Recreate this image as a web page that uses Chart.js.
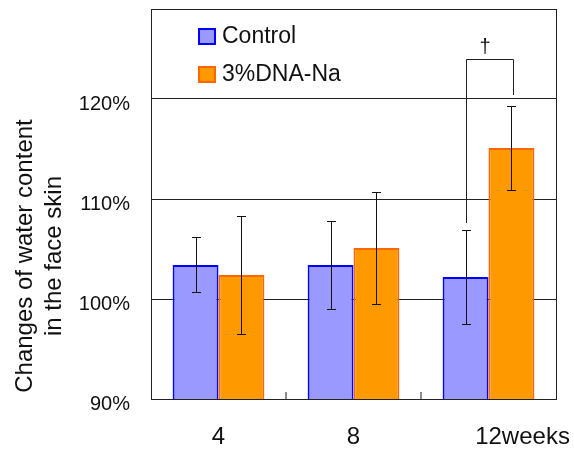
<!DOCTYPE html>
<html lang="en">
<head>
    <meta charset="UTF-8">
    <script src="https://cdn.jsdelivr.net/npm/chart.js"></script>
    <style>
        body { margin: 0; padding: 0; background: #fff; }
        #wrap { width: 574px; height: 450px; }
    </style>
</head>
<body>
    <div id="wrap"><canvas id="chart" width="574" height="450"></canvas></div>
    <script>
        // data
        const categories = ['4', '8', '12'];
        const lastSuffix = 'weeks';
        const controlValues = [103.4, 103.4, 102.2];
        const controlErrors = [2.75, 4.4, 4.7];
        const dnaValues = [102.4, 105.1, 115.1];
        const dnaErrors = [5.9, 5.6, 4.2];
        const yTicks = [90, 100, 110, 120];
        const yMin = 90;
        const yMax = 129;
        // significance bracket between Control and 3%DNA-Na at 12 weeks
        const bracketCategory = 2;
        const bracketTop = 124;
        const bracketLeftEnd = 107.6;
        const bracketRightEnd = 120.4;
        const bracketMark = '†';

        const FONT = '"Liberation Sans", Arial, sans-serif';

        const errorBars = {
            id: 'errorBars',
            afterDatasetsDraw(chart) {
                const ctx = chart.ctx;
                const y = chart.scales.y;
                const errs = [controlErrors, dnaErrors];
                ctx.save();
                ctx.strokeStyle = '#111';
                ctx.lineWidth = 1;
                chart.data.datasets.forEach((ds, di) => {
                    chart.getDatasetMeta(di).data.forEach((bar, i) => {
                        const v = ds.data[i];
                        const top = y.getPixelForValue(v + errs[di][i]);
                        const bot = y.getPixelForValue(v - errs[di][i]);
                        const x = Math.round(bar.x) + 0.5;
                        ctx.beginPath();
                        ctx.moveTo(x, top); ctx.lineTo(x, bot);
                        ctx.moveTo(x - 4.5, Math.round(top) + 0.5); ctx.lineTo(x + 4.5, Math.round(top) + 0.5);
                        ctx.moveTo(x - 4.5, Math.round(bot) + 0.5); ctx.lineTo(x + 4.5, Math.round(bot) + 0.5);
                        ctx.stroke();
                    });
                });
                ctx.restore();
            }
        };

        const decorations = {
            id: 'decorations',
            afterDraw(chart) {
                const ctx = chart.ctx;
                const a = chart.chartArea;
                const x = chart.scales.x;
                const y = chart.scales.y;
                ctx.save();

                // frame
                ctx.strokeStyle = '#222';
                ctx.lineWidth = 1;
                ctx.strokeRect(Math.round(a.left) + 0.5, Math.round(a.top) + 0.5,
                    Math.round(a.right - a.left), Math.round(a.bottom - a.top));

                // inward ticks between categories
                ctx.strokeStyle = '#666';
                ctx.lineWidth = 1.5;
                for (let i = 0; i < categories.length - 1; i++) {
                    const bx = (x.getPixelForValue(i) + x.getPixelForValue(i + 1)) / 2;
                    ctx.beginPath();
                    ctx.moveTo(bx, a.bottom); ctx.lineTo(bx, a.bottom - 7);
                    ctx.stroke();
                }

                // x labels: number centred on the category, suffix trailing
                ctx.fillStyle = '#111';
                ctx.font = '24px ' + FONT;
                ctx.textAlign = 'left';
                ctx.textBaseline = 'middle';
                categories.forEach((c, i) => {
                    const cx = x.getPixelForValue(i);
                    const w = ctx.measureText(c).width;
                    const label = i === categories.length - 1 ? c + lastSuffix : c;
                    ctx.fillText(label, cx - w / 2, 437);
                });

                // y title
                ctx.save();
                ctx.translate(25, 256);
                ctx.rotate(-Math.PI / 2);
                ctx.textAlign = 'center';
                ctx.fillText('Changes of water content', 0, 0);
                ctx.fillText('in the face skin', 0, 29);
                ctx.restore();

                // legend inside plot
                const items = chart.data.datasets;
                items.forEach((ds, i) => {
                    const lx = a.left + 47;
                    const ly = a.top + 19 + i * 38;
                    ctx.fillStyle = ds.backgroundColor;
                    ctx.fillRect(lx, ly, 18, 17);
                    ctx.strokeStyle = ds.borderColor;
                    ctx.lineWidth = 2;
                    ctx.strokeRect(lx + 1, ly + 1, 16, 15);
                    ctx.fillStyle = '#111';
                    ctx.font = '23px ' + FONT;
                    ctx.textAlign = 'left';
                    ctx.fillText(ds.label, lx + 24, ly + 9);
                });

                // significance bracket
                const m0 = chart.getDatasetMeta(0).data[bracketCategory];
                const m1 = chart.getDatasetMeta(1).data[bracketCategory];
                const x0 = Math.round(m0.x) + 0.5;
                const x1 = Math.round(m1.x) + 2.5;
                const yt = Math.round(y.getPixelForValue(bracketTop)) + 0.5;
                ctx.strokeStyle = '#222';
                ctx.lineWidth = 1;
                ctx.beginPath();
                ctx.moveTo(x0, y.getPixelForValue(bracketLeftEnd));
                ctx.lineTo(x0, yt);
                ctx.lineTo(x1, yt);
                ctx.lineTo(x1, y.getPixelForValue(bracketRightEnd));
                ctx.stroke();
                ctx.fillStyle = '#111';
                ctx.font = '20px ' + FONT;
                ctx.textAlign = 'center';
                ctx.fillText(bracketMark, (x0 + x1) / 2 - 5, yt - 12);

                ctx.restore();
            }
        };

        new Chart(document.getElementById('chart'), {
            type: 'bar',
            data: {
                labels: categories,
                datasets: [
                    {
                        label: 'Control',
                        data: controlValues,
                        backgroundColor: '#9999FF',
                        borderColor: '#0000FF',
                        borderWidth: 2,
                        borderSkipped: false
                    },
                    {
                        label: '3%DNA-Na',
                        data: dnaValues,
                        backgroundColor: '#FF9900',
                        borderColor: '#FF6600',
                        borderWidth: 2,
                        borderSkipped: false
                    }
                ]
            },
            options: {
                responsive: false,
                animation: false,
                layout: { autoPadding: false, padding: { left: 0, top: 9, right: 18, bottom: 0 } },
                datasets: { bar: { categoryPercentage: 0.68, barPercentage: 1.0 } },
                scales: {
                    x: {
                        grid: { display: false },
                        border: { display: true, color: '#222' },
                        ticks: { display: false },
                        afterFit: (s) => { s.height = 51; s.paddingLeft = 0; s.paddingRight = 0; }
                    },
                    y: {
                        min: yMin,
                        max: yMax,
                        afterBuildTicks: (s) => { s.ticks = yTicks.map(v => ({ value: v })); },
                        afterFit: (s) => { s.width = 151; s.paddingTop = 0; s.paddingBottom = 0; },
                        grid: { color: '#222', lineWidth: 1, drawTicks: false },
                        border: { display: true, color: '#222' },
                        ticks: {
                            padding: 21,
                            color: '#111',
                            labelOffset: 5,
                            font: { family: FONT, size: 20 },
                            callback: (v) => v + '%'
                        }
                    }
                },
                plugins: {
                    legend: { display: false },
                    tooltip: { enabled: false }
                }
            },
            plugins: [errorBars, decorations]
        });
    </script>
</body>
</html>
